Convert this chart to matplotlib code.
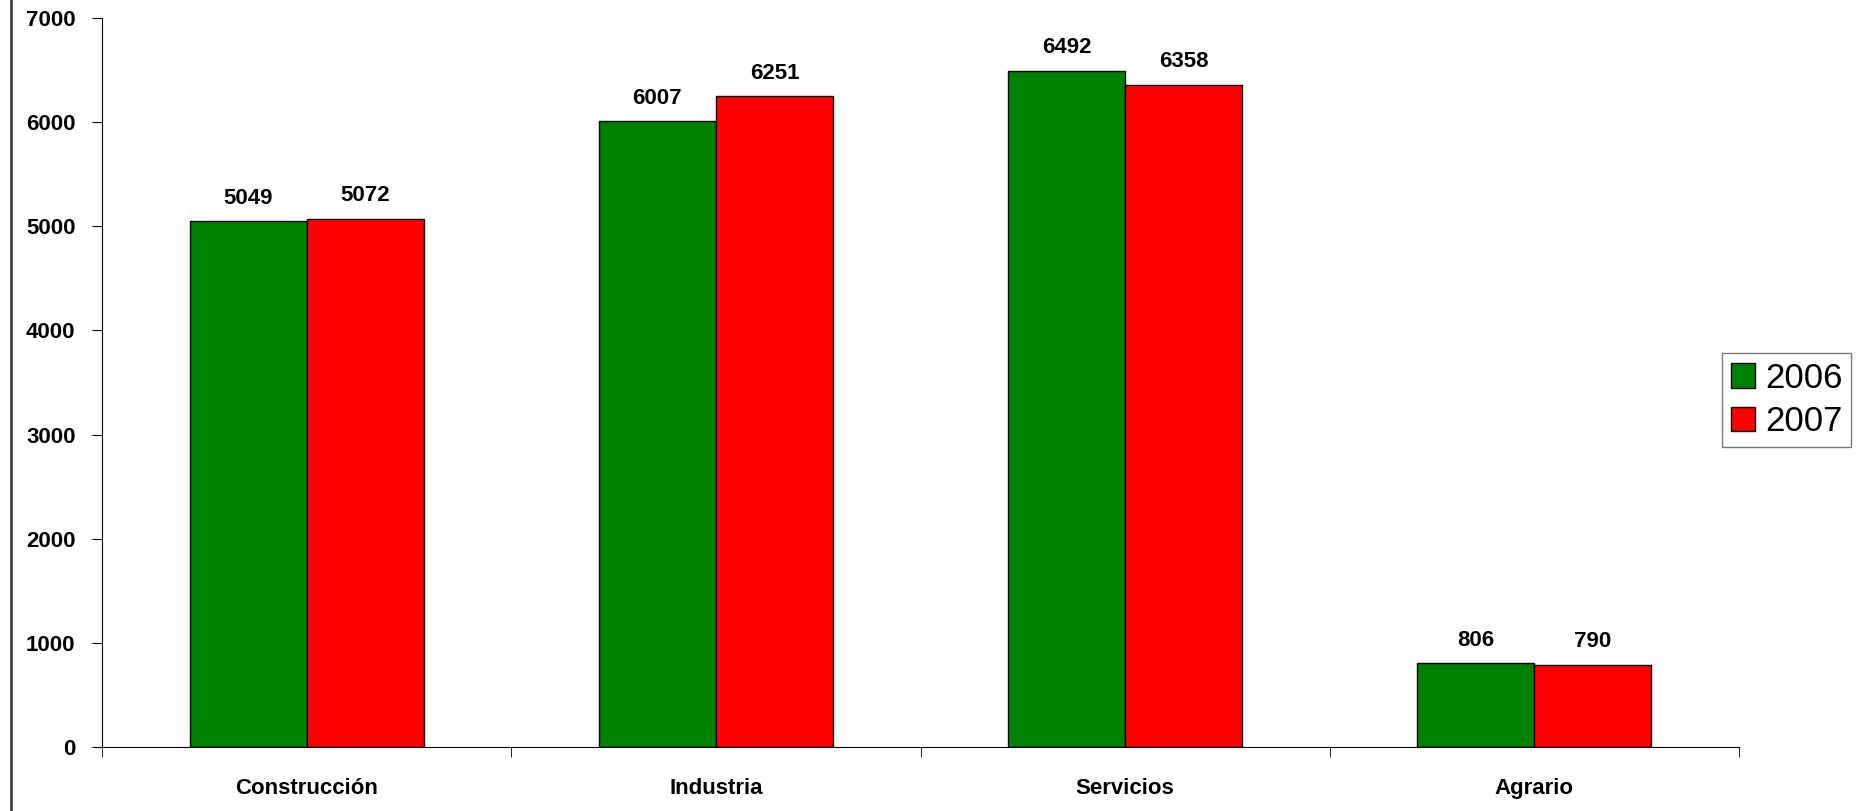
import numpy as np
import matplotlib.pyplot as plt
from matplotlib.lines import Line2D

plt.rcParams['font.family'] = ['Liberation Sans', 'DejaVu Sans']

#data
categories = ["Construcción", "Industria", "Servicios", "Agrario"]
y2006 = [5049, 6007, 6492, 806]
y2007 = [5072, 6251, 6358, 790]
years = ["2006", "2007"]
colors = ["#008000", "#ff0000"]

fig = plt.figure(figsize=(18.59, 8.11), dpi=100)
ax = fig.add_axes([102/1859, 1-747/811, (1739-102)/1859, (747-18)/811])

x = np.arange(len(categories))
w = 0.286
b1 = ax.bar(x - w/2, y2006, w, color=colors[0], edgecolor="black", lw=1, label=years[0])
b2 = ax.bar(x + w/2, y2007, w, color=colors[1], edgecolor="black", lw=1, label=years[1])

for bars in (b1, b2):
    for r in bars:
        ax.annotate(str(int(r.get_height())), (r.get_x() + r.get_width()/2, r.get_height()),
                    xytext=(0, 9), textcoords="offset points", ha="center", va="bottom",
                    fontsize=16, fontweight="bold")

ax.set_xlim(-0.5, 3.5)
ax.set_ylim(0, 7000)
ax.set_yticks(range(0, 7001, 1000))
ax.set_xticks(x)
ax.set_xticklabels(categories, fontsize=16, fontweight="bold")
ax.tick_params(axis="x", length=0, pad=22)
ax.set_xticks(np.arange(-0.5, 4, 1), minor=True)
ax.tick_params(axis="x", which="minor", length=7, direction="out")
ax.tick_params(axis="y", length=7, direction="out", labelsize=16, pad=12)
for t in ax.get_yticklabels():
    t.set_fontweight("bold")
ax.spines["top"].set_visible(False)
ax.spines["right"].set_visible(False)

leg = fig.legend(handles=[b1, b2], labels=years, loc="center left",
                 bbox_to_anchor=(1722/1859, 1-400/811), fontsize=25,
                 frameon=True, fancybox=False, edgecolor="#555555",
                 handlelength=0.7, handleheight=0.7, handletextpad=0.3,
                 borderpad=0.25, labelspacing=0.3, borderaxespad=0)

#left border line
fig.add_artist(Line2D([11/1859, 11/1859], [0, 1], color="#444444", lw=2))

plt.savefig("out.png", dpi=100)
